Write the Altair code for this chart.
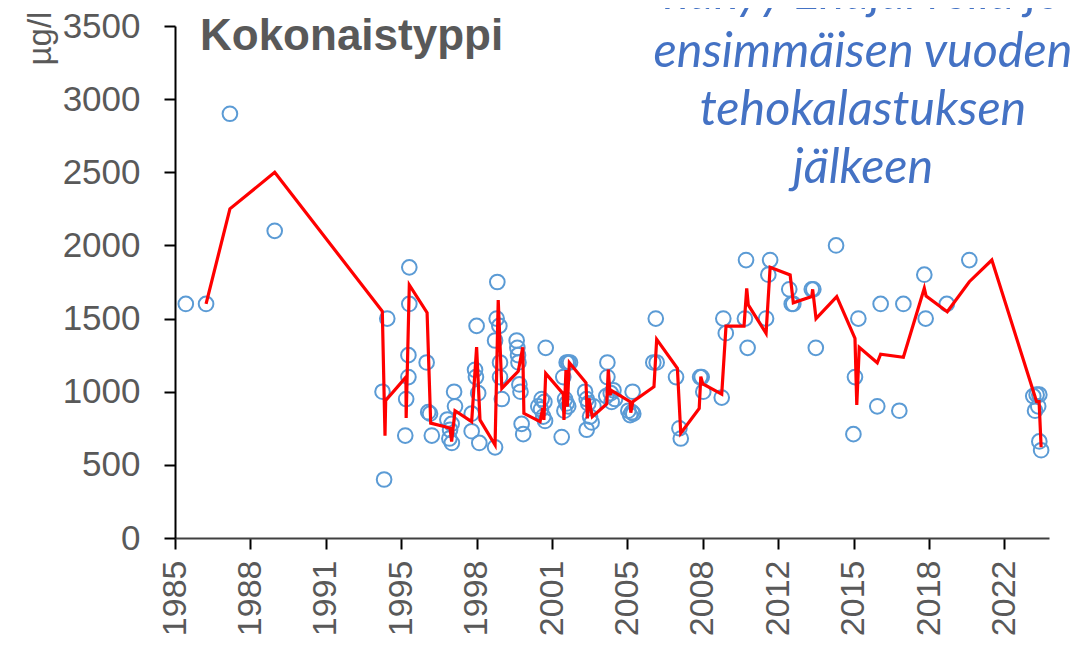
import altair as alt
import pandas as pd

# Observations (decimal year, µg/l)
POINT_YEARS = [
    1985.68, 1986.58, 1987.64, 1989.63,
    1994.42, 1994.49, 1994.63, 1995.43, 1995.47, 1995.57, 1995.57, 1995.61, 1995.61,
    1996.38, 1996.45, 1996.53, 1996.61,
    1997.30, 1997.42, 1997.49, 1997.39, 1997.50, 1997.60, 1997.64,
    1998.38, 1998.38, 1998.53, 1998.57, 1998.60, 1998.67, 1998.72,
    1999.42, 1999.42, 1999.49, 1999.52, 1999.61, 1999.64, 1999.64, 1999.72,
    2000.38, 2000.41, 2000.44, 2000.46, 2000.50, 2000.55, 2000.60, 2000.67,
    2001.34, 2001.46, 2001.49, 2001.56, 2001.61, 2001.64, 2001.67,
    2002.38, 2002.45, 2002.50, 2002.53, 2002.60, 2002.60, 2002.67, 2002.67, 2002.75,
    2003.42, 2003.49, 2003.49, 2003.56, 2003.64, 2003.71, 2003.79,
    2004.36, 2004.41, 2004.41, 2004.56, 2004.60, 2004.68, 2004.75,
    2005.34, 2005.42, 2005.50, 2005.53, 2005.56,
    2006.45, 2006.56, 2006.60,
    2007.46, 2007.61, 2007.67,
    2008.53, 2008.60, 2008.67,
    2009.49, 2009.56, 2009.67,
    2010.52, 2010.57, 2010.64,
    2011.46, 2011.56, 2011.64,
    2012.49, 2012.60, 2012.67,
    2013.49, 2013.56, 2013.67,
    2014.57,
    2015.34, 2015.41, 2015.56,
    2016.40, 2016.55,
    2017.38, 2017.56,
    2018.49, 2018.55,
    2019.49,
    2020.49,
    2023.33, 2023.41, 2023.48, 2023.55, 2023.60, 2023.60, 2023.68,
]
POINT_VALUES = [
    1600, 1600, 2900, 2100,
    1000, 400, 1500, 700, 950, 1100, 1250, 1600, 1850,
    1200, 860, 850, 700,
    810, 740, 780, 680, 650, 1000, 900,
    850, 730, 1150, 1100, 1450, 990, 650,
    620, 1350, 1500, 1750, 1450, 1200, 1100, 950,
    1350, 1300, 1250, 1200, 1050, 1000, 780, 710,
    900, 880, 950, 830, 930, 800, 1300,
    690, 1100, 870, 950, 920, 1200, 900, 1200, 1200,
    1000, 950, 740, 920, 830, 790, 900,
    970, 1200, 1100, 990, 930, 1010, 950,
    870, 840, 860, 1000, 850,
    1200, 1500, 1200,
    1100, 750, 680,
    1100, 1100, 1000,
    960, 1500, 1400,
    1500, 1900, 1300,
    1500, 1800, 1900,
    1700, 1600, 1600,
    1700, 1700, 1300,
    2000,
    710, 1100, 1500,
    900, 1600,
    870, 1600,
    1800, 1500,
    1600,
    1900,
    970, 870, 980, 900, 980, 660, 600,
]

# Red trend line vertices
LINE_YEARS = [
    1986.58, 1987.64, 1989.63, 1994.41, 1994.53, 1994.56, 1995.46, 1995.47, 1995.61,
    1996.40, 1996.56, 1997.20, 1997.42, 1997.49, 1997.64, 1998.38, 1998.60, 1998.75,
    1999.42, 1999.56, 1999.72, 2000.45, 2000.65, 2000.70, 2001.42, 2001.54, 2001.59,
    2001.67, 2002.45, 2002.48, 2002.57, 2002.63, 2002.72, 2003.46, 2003.52, 2003.59,
    2003.74, 2004.38, 2004.45, 2004.53, 2004.60, 2005.42, 2005.45, 2005.54, 2006.48,
    2006.60, 2007.52, 2007.67, 2008.49, 2008.56, 2008.65, 2009.49, 2009.68, 2010.48,
    2010.60, 2010.67, 2011.46, 2011.64, 2012.53, 2012.67, 2013.49, 2013.53, 2013.68,
    2014.60, 2015.41, 2015.49, 2015.60, 2016.40, 2016.55, 2017.56, 2018.49, 2018.57,
    2019.51, 2020.49, 2021.49, 2023.41, 2023.48, 2023.59, 2023.68,
]
LINE_VALUES = [
    1600, 2250, 2500, 1550, 700, 940, 1100, 820, 1730,
    1540, 785, 760, 750, 660, 870, 795, 1305, 807,
    636, 1627, 1023, 1140, 1303, 852, 795, 890, 807,
    1125, 985, 807, 1148, 897, 1198, 1061, 818, 955,
    829, 916, 1152, 977, 1007, 932, 857, 932, 1034,
    1358, 1160, 716, 886, 1103, 1053, 984, 1449, 1449,
    1707, 1593, 1399, 1850, 1798, 1608, 1650, 1700, 1500,
    1650, 1365, 909, 1303, 1198, 1256, 1235, 1707, 1654,
    1547, 1752, 1900, 966, 932, 932, 620,
]

X_TICK_LABELS = ["1985", "1988", "1991", "1995", "1998", "2001",
                 "2005", "2008", "2012", "2015", "2018", "2022"]
X_TICK_START = 1985.2
X_TICK_STEP = 3.35
X_DOMAIN = [1985.2, 2024.03]
Y_TICKS = [0, 500, 1000, 1500, 2000, 2500, 3000, 3500]

TITLE = "Kokonaistyppi"
NOTE_LINES = ["näkyy Enäjärvellä jo", "ensimmäisen vuoden", "tehokalastuksen", "jälkeen"]
Y_TITLE = "µg/l"

points = pd.DataFrame({"year": POINT_YEARS, "value": POINT_VALUES})
line = pd.DataFrame({"year": LINE_YEARS, "value": LINE_VALUES, "order": range(len(LINE_YEARS))})

tick_values = [round(X_TICK_START + i * X_TICK_STEP, 4) for i in range(len(X_TICK_LABELS))]
label_arr = "[" + ",".join("'" + s + "'" for s in X_TICK_LABELS) + "]"
label_expr = f"{label_arr}[round((datum.value - {X_TICK_START}) / {X_TICK_STEP})]"

FONT = "Liberation Sans"
GRAY = "#595959"

x_enc = alt.X(
    "year:Q",
    scale=alt.Scale(domain=X_DOMAIN, nice=False, zero=False),
    axis=alt.Axis(
        values=tick_values, labelExpr=label_expr, title=None, grid=False,
        labelAngle=-90, labelFont=FONT, labelFontSize=34, labelColor=GRAY,
        labelPadding=11, tickSize=11, tickColor="black", tickWidth=2,
        domainColor="#404040", domainWidth=2, labelOverlap=False,
    ),
)
y_enc = alt.Y(
    "value:Q",
    scale=alt.Scale(domain=[0, 3500], nice=False),
    axis=alt.Axis(
        values=Y_TICKS, title=Y_TITLE, grid=False, format="d",
        labelFont=FONT, labelFontSize=35, labelColor=GRAY, labelPadding=24,
        tickSize=11, tickColor="black", tickWidth=2, domainColor="black", domainWidth=2,
        titleFont=FONT, titleFontSize=33, titleColor=GRAY, titleFontWeight="normal",
        titleAngle=-90, titleX=-135, titleY=12, titleAlign="center", titleBaseline="middle",
    ),
)

pts = alt.Chart(points).mark_point(
    shape="circle", filled=False, color="#5B9BD5", strokeWidth=2, size=215, opacity=1
).encode(x=x_enc, y=y_enc)

ln = alt.Chart(line).mark_line(color="#FF0000", strokeWidth=3.2).encode(
    x="year:Q", y="value:Q", order="order:Q"
)

title_txt = alt.Chart(pd.DataFrame({"t": [TITLE]})).mark_text(
    font=FONT, fontSize=44, fontWeight="bold", color=GRAY, align="left", baseline="alphabetic"
).encode(text="t:N", x=alt.value(25), y=alt.value(24))

note_txt = alt.Chart(pd.DataFrame({"t": [0]})).mark_text(
    font="Lato", fontSize=48.5, fontStyle="italic", color="#4472C4", align="center",
    baseline="alphabetic", lineHeight=58,
).encode(text=alt.value(NOTE_LINES), x=alt.value(688), y=alt.value(-17))

chart = alt.layer(pts, ln, title_txt, note_txt).properties(
    width=874, height=512,
    autosize=alt.AutoSizeParams(type="none"),
    padding={"left": 167, "top": 18, "right": 30, "bottom": 100},
    background="white",
).configure_view(stroke=None)

chart.save("out.html", embed_options={"renderer": "svg", "actions": False})
